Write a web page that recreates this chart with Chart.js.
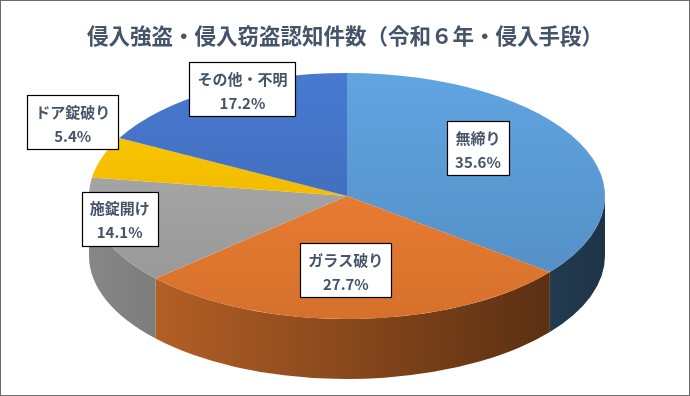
<!DOCTYPE html>
<html>
<head>
<meta charset="utf-8">
<script src="https://cdn.jsdelivr.net/npm/chart.js@4"></script>
<style>
html, body { margin: 0; padding: 0; background: #fff; }
canvas { display: block; }
</style>
</head>
<body>
<canvas id="chart" width="690" height="396"></canvas>
<script>
// Data
const categories = ['無締り', 'ガラス破り', '施錠開け', 'ドア錠破り', 'その他・不明'];
const shares = [35.6, 27.7, 14.1, 5.4, 17.2];
const sliceColors = ['#5B9BD5', '#ED7D31', '#A5A5A5', '#FFC000', '#4472C4'];

// label placement: fraction of radius and angle shift (deg) from slice middle
const labelRadius = [0.64, 0.60, 0.90, 1.22, 0.96];
const labelShift = [-11.6, 2.4, 5, 11, 6];

// 3D look
const CX = 347, CY = 196, RX = 258, RY = 123, DEPTH = 60;
const FONT = '"Noto Sans CJK JP", "Noto Sans", sans-serif';

function shade(hex, f) {
    const n = parseInt(hex.slice(1), 16);
    const r = Math.min(255, Math.round(((n >> 16) & 255) * f));
    const g = Math.min(255, Math.round(((n >> 8) & 255) * f));
    const b = Math.min(255, Math.round((n & 255) * f));
    return `rgb(${r},${g},${b})`;
}

// slice top colour with a soft vertical gradient
function topColor(context) {
    const chart = context.chart;
    const area = chart.chartArea;
    const col = sliceColors[context.dataIndex];
    if (!area) return col;
    const cy = (area.top + area.bottom) / 2;
    const r = Math.min(area.right - area.left, area.bottom - area.top) / 2;
    const g = chart.ctx.createLinearGradient(0, cy - r, 0, cy + r);
    g.addColorStop(0, shade(col, 1.06));
    g.addColorStop(1, shade(col, 0.9));
    return g;
}

const pie3d = {
    id: 'pie3d',
    beforeDatasetsDraw(chart) {
        const ctx = chart.ctx;
        const meta = chart.getDatasetMeta(0);
        // front walls
        meta.data.forEach((arc, i) => {
            const a = Math.max(arc.startAngle, 0);
            const b = Math.min(arc.endAngle, Math.PI);
            if (a >= b) return;
            const col = sliceColors[i];
            const g = ctx.createLinearGradient(CX - RX, 0, CX + RX, 0);
            g.addColorStop(0, shade(col, 0.82));
            g.addColorStop(1, shade(col, 0.33));
            ctx.save();
            ctx.beginPath();
            ctx.ellipse(CX, CY, RX, RY, 0, a, b);
            ctx.ellipse(CX, CY + DEPTH, RX, RY, 0, b, a, true);
            ctx.closePath();
            ctx.fillStyle = g;
            ctx.fill();
            ctx.restore();
        });
        // squash the top surface
        const arc0 = meta.data[0];
        const r = arc0.outerRadius;
        ctx.save();
        ctx.translate(CX, CY);
        ctx.scale(RX / r, RY / r);
        ctx.translate(-arc0.x, -arc0.y);
    },
    afterDatasetsDraw(chart) {
        chart.ctx.restore();
    },
    afterDraw(chart) {
        const ctx = chart.ctx;
        const meta = chart.getDatasetMeta(0);
        ctx.save();
        meta.data.forEach((arc, i) => {
            const mid = (arc.startAngle + arc.endAngle) / 2 + labelShift[i] * Math.PI / 180;
            const x = CX + RX * labelRadius[i] * Math.cos(mid);
            const y = CY + RY * labelRadius[i] * Math.sin(mid);
            const pct = shares[i].toFixed(1) + '%';
            ctx.font = 'bold 15px ' + FONT;
            const w = Math.max(ctx.measureText(categories[i]).width, ctx.measureText(pct).width) + 16;
            const h = 54;
            ctx.fillStyle = '#ffffff';
            ctx.fillRect(Math.round(x - w / 2), Math.round(y - h / 2), Math.round(w), h);
            ctx.strokeStyle = '#000000';
            ctx.lineWidth = 1.2;
            ctx.strokeRect(Math.round(x - w / 2) + 0.5, Math.round(y - h / 2) + 0.5, Math.round(w), h);
            ctx.fillStyle = '#44546A';
            ctx.textAlign = 'center';
            ctx.textBaseline = 'middle';
            ctx.fillText(categories[i], x, y - 10);
            ctx.fillText(pct, x, y + 14);
        });
        // chart frame
        ctx.strokeStyle = '#6b6b6b';
        ctx.lineWidth = 1;
        ctx.strokeRect(0.5, 0.5, chart.width - 1, chart.height - 1);
        ctx.restore();
    }
};

const ctx = document.getElementById('chart').getContext('2d');
const chart = new Chart(ctx, {
    type: 'pie',
    data: {
        labels: categories,
        datasets: [{
            data: shares,
            backgroundColor: topColor,
            borderWidth: 0,
            clip: false
        }]
    },
    options: {
        responsive: false,
        animation: false,
        events: [],
        layout: { padding: { top: 10, bottom: 10 } },
        plugins: {
            legend: { display: false },
            tooltip: { enabled: false },
            title: {
                display: true,
                text: '侵入強盗・侵入窃盗認知件数（令和６年・侵入手段）',
                color: '#44546A',
                font: { family: FONT, size: 21.5, weight: 'bold' },
                padding: { top: 13, bottom: 10 }
            }
        }
    },
    plugins: [pie3d]
});
</script>
</body>
</html>
